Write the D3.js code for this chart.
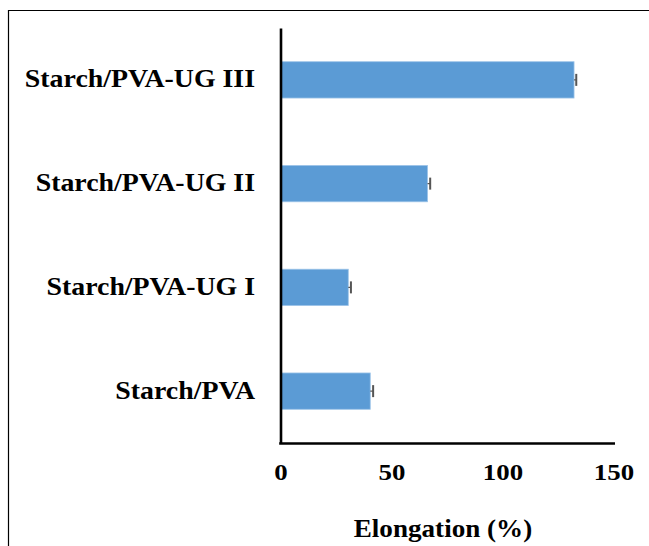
<!DOCTYPE html>
<html>
<head>
<meta charset="utf-8">
<script src="https://cdn.jsdelivr.net/npm/d3@7"></script>
<style>
  html, body { margin: 0; padding: 0; background: #fff; }
  svg { display: block; }
  text { font-family: "Liberation Serif", "Times New Roman", serif; font-weight: bold; fill: #000; }
</style>
</head>
<body>
<script>
// Elongation at break of the starch/PVA films
const categories = ["Starch/PVA", "Starch/PVA-UG I", "Starch/PVA-UG II", "Starch/PVA-UG III"];
const elongation = [40.2, 30.3, 66.0, 132.0];
const errors = [1.3, 1.2, 1.2, 1.0];
const xTicks = [0, 50, 100, 150];
const xTitle = "Elongation (%)";

const W = 649, H = 546;
const svg = d3.select("body").append("svg").attr("width", W).attr("height", H);

// frame
svg.append("path")
  .attr("d", `M8.5,${H} V10.5 H${W}`)
  .attr("fill", "none").attr("stroke", "#000").attr("stroke-width", 1.2);

const x = d3.scaleLinear().domain([0, 150]).range([281, 614]);
const y = d3.scaleBand()
  .domain(categories.slice().reverse())
  .range([28, 443])
  .paddingInner(0.65)
  .paddingOuter(0.325);

const fs = 24;

// bars
svg.append("g").selectAll("rect")
  .data(categories)
  .join("rect")
  .attr("x", x(0))
  .attr("y", d => y(d))
  .attr("width", (d, i) => x(elongation[i]) - x(0))
  .attr("height", y.bandwidth())
  .attr("fill", "#5b9bd5")
  .attr("stroke", "#9cc3e8")
  .attr("stroke-width", 0.8);

// error bars (positive direction)
const eb = svg.append("g").attr("stroke", "#555").attr("stroke-width", 2);
categories.forEach((c, i) => {
  const cy = y(c) + y.bandwidth() / 2;
  const x1 = x(elongation[i]), x2 = x(elongation[i] + errors[i]);
  eb.append("line").attr("x1", x1).attr("x2", x2).attr("y1", cy).attr("y2", cy).attr("stroke-width", 1.2);
  eb.append("line").attr("x1", x2).attr("x2", x2).attr("y1", cy - 6).attr("y2", cy + 6);
});

// axes
const yAxis = d3.axisLeft(y).tickSize(0).tickPadding(0).tickFormat(() => "");
const gy = svg.append("g").attr("transform", `translate(${x(0) - 0.5},0)`).call(yAxis);
gy.select(".domain").attr("stroke", "#000").attr("stroke-width", 2.6);

const xAxis = d3.axisBottom(x).tickValues(xTicks).tickSize(0).tickFormat(() => "");
const gx = svg.append("g").attr("transform", `translate(0,443.5)`).call(xAxis);
gx.select(".domain").attr("stroke", "#000").attr("stroke-width", 2.6)
  .attr("d", `M${x(0) - 1.8},0H${x(150) + 1}`);

// category labels
categories.forEach(c => {
  const cy = y(c) + y.bandwidth() / 2 + 7.5;
  svg.append("text")
    .attr("transform", `translate(255,${cy}) scale(1.16,1.02)`)
    .attr("text-anchor", "end")
    .attr("font-size", fs)
    .text(c);
});

// tick labels
xTicks.forEach(t => {
  svg.append("text")
    .attr("transform", `translate(${x(t)},480) scale(1.12,1)`)
    .attr("text-anchor", "middle")
    .attr("font-size", fs)
    .text(t);
});

// axis title
svg.append("text")
  .attr("transform", `translate(443,537) scale(1.13,1.02)`)
  .attr("text-anchor", "middle")
  .attr("font-size", fs)
  .text(xTitle);
</script>
</body>
</html>
